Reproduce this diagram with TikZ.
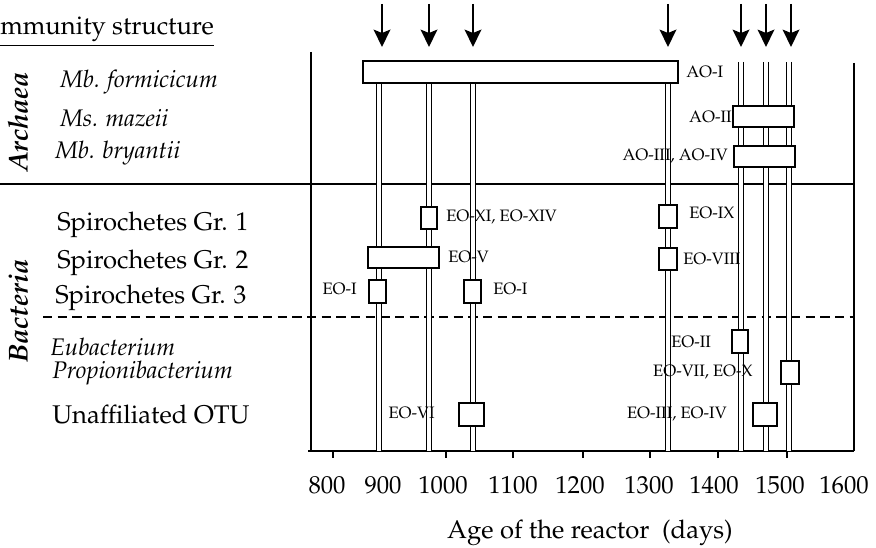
\documentclass[tikz,border=0pt]{standalone}
\usepackage[T1]{fontenc}
\usepackage{mathpazo}
\usetikzlibrary{arrows.meta}
\begin{document}
\begin{tikzpicture}[x=0.75pt,y=-0.75pt,
  lbl/.style={inner sep=0pt, font=\fontsize{19.2}{22}\selectfont},
  ilbl/.style={inner sep=0pt, font=\fontsize{18}{21}\selectfont\itshape},
  grp/.style={inner sep=0pt, font=\fontsize{20.5}{23}\selectfont\bfseries\itshape, rotate=90},
  small/.style={inner sep=0pt, font=\fontsize{12.4}{14}\selectfont},
  tick/.style={inner sep=0pt, font=\fontsize{18.5}{21}\selectfont},
  frame/.style={line width=1.1pt},
  axis/.style={line width=1.6pt},
  dbl/.style={double, double distance=2.3pt, line width=0.8pt},
  box/.style={draw, line width=1.1pt, fill=white, inner sep=0pt},
  mark arrow/.style={line width=1.5pt, -{Stealth[length=13pt,width=12.5pt,inset=2.5pt]}}
]
\useasboundingbox (0,0) rectangle (876,548);

% frame
\coordinate (lt) at (311,52);
\coordinate (lb) at (311,451);
\coordinate (rt) at (854,63);
\coordinate (rb) at (854,451);
\coordinate (ax0) at (308,451);
\coordinate (h0) at (0,184);
\coordinate (h1) at (854,184);
\coordinate (d0) at (43,317);
\coordinate (d1) at (854,317);
\draw[frame] (lt) -- (lb);
\draw[frame] (rt) -- (rb);
\draw[frame] (h0) -- (h1);
\draw[frame, dash pattern=on 7pt off 4pt] (d0) -- (d1);
\draw[axis] (ax0) -- (rb);

% ticks
\foreach \x/\n in {333/a,446/b,513/c,583/d,650/e,718/f,787/g}{
  \coordinate (t\n) at (\x,451);
  \draw[line width=0.8pt] (t\n) -- ++(0,7);
}

% double lines
\foreach \n/\x/\y in {A/379/83,B/429/83,C/473/83,D/668/83,E/741/62,F/766/62,G/789/62}{
  \coordinate (\n top) at (\x,\y);
  \coordinate (\n bot) at (\x,451);
  \draw[dbl] (\n top) -- (\n bot);
}

% arrows
\foreach \n/\x in {1/382,2/429,3/473,4/668,5/741,6/766,7/791}{
  \coordinate (ar\n s) at (\x,4);
  \coordinate (ar\n e) at (\x,47);
  \draw[mark arrow] (ar\n s) -- (ar\n e);
}

% boxes
\node[box, minimum width=236pt, minimum height=16.5pt] (aoI) at (520.5,72) {};
\node[box, minimum width=46pt, minimum height=16pt] (aoII) at (763.5,116.5) {};
\node[box, minimum width=46pt, minimum height=16pt] (aoIII) at (764.5,156.5) {};
\node[box, minimum width=12pt, minimum height=16.5pt] (eoXI) at (429,218) {};
\node[box, minimum width=53pt, minimum height=16pt] (eoV) at (403.5,257.5) {};
\node[box, minimum width=12.5pt, minimum height=17pt] (eoIa) at (377.5,291.5) {};
\node[box, minimum width=12.5pt, minimum height=17pt] (eoIb) at (472.5,291.5) {};
\node[box, minimum width=13.5pt, minimum height=17pt] (eoIX) at (668,216.5) {};
\node[box, minimum width=13.5pt, minimum height=16.5pt] (eoVIII) at (668,259) {};
\node[box, minimum width=12pt, minimum height=17pt] (eoII) at (740,341.5) {};
\node[box, minimum width=13.5pt, minimum height=17pt] (eoVII) at (790,372.5) {};
\node[box, minimum width=18pt, minimum height=17pt] (eoIII) at (765,414.5) {};
\node[box, minimum width=19pt, minimum height=17pt] (eoVI) at (471.5,414.5) {};

% box labels
\node[small, anchor=west] (laoI) at (686,72) {AO-I};
\node[small, anchor=east] (laoII) at (732,117) {AO-II};
\node[small, anchor=east] (laoIII) at (728,156) {AO-III, AO-IV};
\node[small, anchor=west] (leoXI) at (446,217) {EO-XI, EO-XIV};
\node[small, anchor=west] (leoV) at (448,257) {EO-V};
\node[small, anchor=east] (leoIa) at (357,289) {EO-I};
\node[small, anchor=west] (leoIb) at (493,289) {EO-I};
\node[small, anchor=west] (leoIX) at (689,213) {EO-IX};
\node[small, anchor=west] (leoVIII) at (683,259) {EO-VIII};
\node[small, anchor=west] (leoII) at (671,342) {EO-II};
\node[small, anchor=east] (leoVII) at (753,372) {EO-VII, EO-X};
\node[small, anchor=east] (leoIII) at (727,414) {EO-III, EO-IV};
\node[small, anchor=east] (leoVI) at (435,413) {EO-VI};

% left labels
\node[lbl, anchor=west] (title) at (0,32) {\underline{mmunity structure}};
\node[grp] (arch) at (18,122) {Archaea};
\node[grp] (bact) at (18,311) {Bacteria};
\node[ilbl, anchor=west] (mbf) at (60,82) {Mb. formicicum};
\node[ilbl, anchor=west] (msm) at (60,118) {Ms. mazeii};
\node[ilbl, anchor=west] (mbb) at (55,153) {Mb. bryantii};
\node[lbl, anchor=west] (sp1) at (57,225) {Spirochetes Gr. 1};
\node[lbl, anchor=west] (sp2) at (57,263) {Spirochetes Gr. 2};
\node[lbl, anchor=west] (sp3) at (55,298) {Spirochetes Gr. 3};
\node[ilbl, anchor=west] (eub) at (50,347) {Eubacterium};
\node[ilbl, anchor=west] (prop) at (52,373) {Propionibacterium};
\node[lbl, anchor=west] (otu) at (52,415) {Unaffiliated OTU};

% tick labels
\foreach \x/\v in {327/800,383/900,443/1000,513/1100,580/1200,649/1300,714/1400,780/1500,844/1600}{
  \node[tick] (tl\v) at (\x,485) {\v};
}
\node[lbl] (xlab) at (590,533) {Age of the reactor~~(days)};
\end{tikzpicture}
\end{document}
